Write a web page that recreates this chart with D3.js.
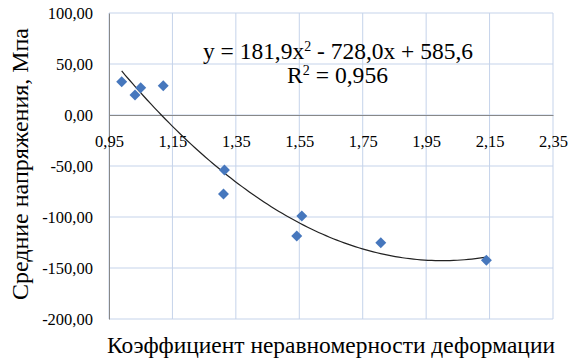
<!DOCTYPE html>
<html>
<head>
<meta charset="utf-8">
<script src="https://d3js.org/d3.v7.min.js"></script>
</head>
<body style="margin:0">
<svg id="chart" width="571" height="364"></svg>
<script>
// data
var kValues = [0.99, 1.032, 1.05, 1.121, 1.314, 1.311, 1.558, 1.542, 1.807, 2.14];
var stressValues = [32.6, 19.6, 26.8, 28.7, -53.9, -77.5, -99.0, -118.6, -125.2, -142.5];
var xTicks = [0.95, 1.15, 1.35, 1.55, 1.75, 1.95, 2.15, 2.35];
var yTicks = [100, 50, 0, -50, -100, -150, -200];
// trendline coefficients as printed on the chart (a, b, c)
var trendCoef = [181.9, -728.0, 585.6];
var trendText = ["y = 181,9x", "2", " - 728,0x + 585,6"];
var r2Text = ["R", "2", " = 0,956"];
var xTitle = "Коэффициент неравномерности деформации";
var yTitle = "Средние напряжения, Мпа";

var fontName = "'Liberation Serif'";

var margin = {top: 13, right: 18, bottom: 45, left: 109};
var width = 571 - margin.left - margin.right,
    height = 364 - margin.top - margin.bottom;

var svg = d3.select("#chart");
var g = svg.append("g").attr("transform", "translate(" + margin.left + "," + margin.top + ")");

var x = d3.scaleLinear().domain([0.95, 2.35]).range([0, width]);
var y = d3.scaleLinear().domain([-200, 100]).range([height, 0]);

var fmt = function(d) { return d3.format(".2f")(d).replace(".", ",").replace("−", "-"); };

// gridlines
g.append("g").selectAll("line")
  .data(xTicks).enter().append("line")
  .attr("x1", function(d) { return x(d); }).attr("x2", function(d) { return x(d); })
  .attr("y1", 0).attr("y2", height)
  .attr("stroke", "#c5d3ea").attr("stroke-width", 1);

g.append("g").selectAll("line")
  .data(yTicks).enter().append("line")
  .attr("x1", 0).attr("x2", width)
  .attr("y1", function(d) { return y(d); }).attr("y2", function(d) { return y(d); })
  .attr("stroke", "#c5d3ea").attr("stroke-width", 1);

// y axis
var yAxis = g.append("g")
  .call(d3.axisLeft(y).tickValues(yTicks).tickSize(0).tickPadding(16).tickFormat(fmt));
yAxis.select(".domain").attr("stroke", "#888");
yAxis.selectAll("text")
  .style("font-family", function() { return fontName; })
  .style("font-size", "16.5px");

// x axis at zero
var xAxis = g.append("g").attr("transform", "translate(0," + y(0) + ")")
  .call(d3.axisBottom(x).tickValues(xTicks).tickSize(0).tickPadding(20).tickFormat(fmt));
xAxis.select(".domain").attr("stroke", "#888");
xAxis.selectAll("text")
  .style("font-family", function() { return fontName; })
  .style("font-size", "16.5px");

// trendline
var xs = d3.range(0, 101).map(function(i) { return kValues[0] + (d3.max(kValues) - kValues[0]) * i / 100; });
var line = d3.line()
  .x(function(d) { return x(d); })
  .y(function(d) { return y(trendCoef[0] * d * d + trendCoef[1] * d + trendCoef[2]); });
g.append("path").datum(xs)
  .attr("d", line).attr("fill", "none")
  .attr("stroke", "#222").attr("stroke-width", 1.2);

// points
var pts = kValues.map(function(k, i) { return [k, stressValues[i]]; });
g.selectAll("path.pt").data(pts).enter().append("path")
  .attr("class", "pt")
  .attr("d", d3.symbol().type(d3.symbolSquare).size(60))
  .attr("transform", function(d) { return "translate(" + x(d[0]) + "," + y(d[1]) + ") rotate(45)"; })
  .attr("fill", "#4677bd");

// equation labels
var eq = svg.append("text").attr("x", 203).attr("y", 59)
  .attr("textLength", 270).attr("lengthAdjust", "spacingAndGlyphs")
  .style("font-size", "23.5px").style("font-family", function() { return fontName; });
eq.append("tspan").text(trendText[0]);
eq.append("tspan").attr("dy", -8).style("font-size", "14px").text(trendText[1]);
eq.append("tspan").attr("dy", 8).text(trendText[2]);

var r2 = svg.append("text").attr("x", 287).attr("y", 83)
  .attr("textLength", 101).attr("lengthAdjust", "spacingAndGlyphs")
  .style("font-size", "23.5px").style("font-family", function() { return fontName; });
r2.append("tspan").text(r2Text[0]);
r2.append("tspan").attr("dy", -8).style("font-size", "14px").text(r2Text[1]);
r2.append("tspan").attr("dy", 8).text(r2Text[2]);

// axis titles
svg.append("text")
  .attr("x", 331).attr("y", 353)
  .attr("text-anchor", "middle")
  .attr("textLength", 448).attr("lengthAdjust", "spacingAndGlyphs")
  .style("font-size", "23.5px").style("font-family", function() { return fontName; })
  .text(xTitle);

svg.append("text")
  .attr("transform", "translate(28," + 164 + ") rotate(-90)")
  .attr("text-anchor", "middle")
  .attr("textLength", 272).attr("lengthAdjust", "spacingAndGlyphs")
  .style("font-size", "23.5px").style("font-family", function() { return fontName; })
  .text(yTitle);
</script>
</body>
</html>
